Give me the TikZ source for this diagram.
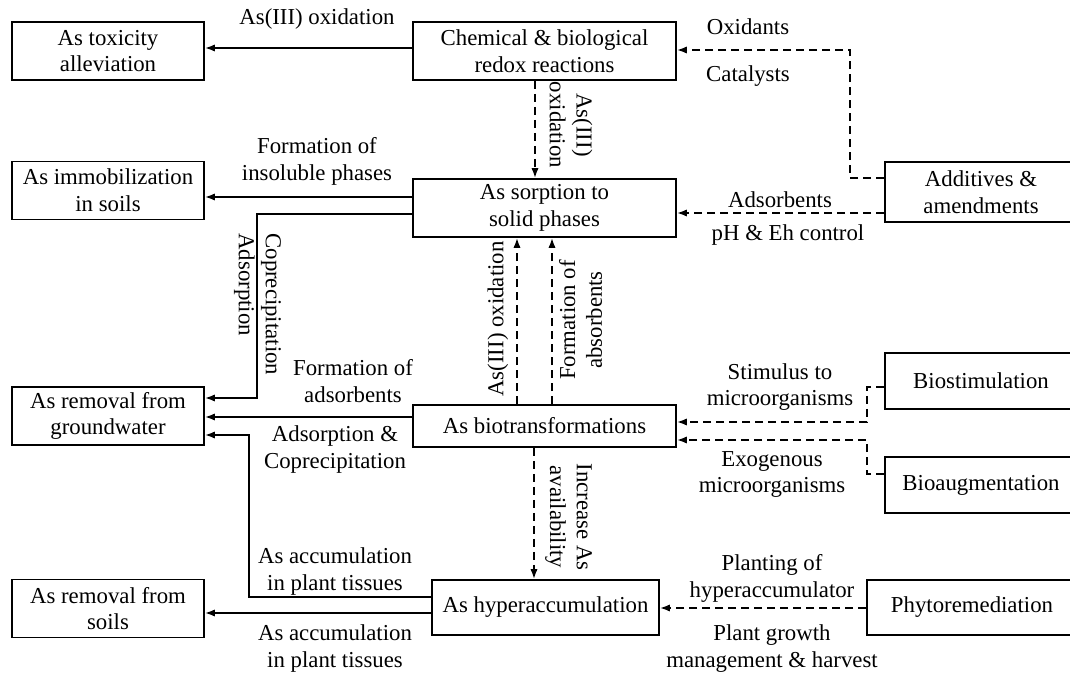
\documentclass[tikz,border=0pt]{standalone}
\usepackage{fontspec}
\setmainfont{Liberation Serif}
\usetikzlibrary{arrows.meta}

\begin{document}
\begin{tikzpicture}[x=0.5pt,y=-0.5pt]
                        \tikzstyle{box}=[draw, line width=0.8pt, align=center, inner sep=0pt, font=\fontsize{11.4}{13.4}\selectfont]
                        \tikzstyle{sidebox}=[box, minimum width=96pt, minimum height=29pt]
                        \tikzstyle{midbox}=[box, minimum width=131.5pt, minimum height=29pt]
                        \tikzstyle{lbl}=[align=center, inner sep=0pt, font=\fontsize{11.4}{13.4}\selectfont]
                        \tikzstyle{solidarr}=[line width=0.9pt, -{Latex[length=5pt,width=3.6pt]}]
                        \tikzstyle{dasharr}=[solidarr, dash pattern=on 4pt off 2.5pt]
                        \useasboundingbox (0,0) rectangle (1070,673);
                        \clip (0,0) rectangle (1070,673);
                        \node[sidebox] (tox) at (108,51) {As toxicity\\alleviation};
                        \node[sidebox] (immob) at (108,190.5) {As immobilization\\in soils};
                        \node[sidebox] (gw) at (108,416) {As removal from\\groundwater};
                        \node[sidebox] (soils) at (108,608.5) {As removal from\\soils};
                        \node[midbox] (chem) at (544.5,51) {Chemical \& biological\\redox reactions};
                        \node[midbox] (sorp) at (544.5,208) {As sorption to\\solid phases};
                        \node[midbox, minimum height=21pt] (biot) at (544.5,426) {As biotransformations};
                        \node[box, minimum width=113.5pt, minimum height=27.5pt] (hyper) at (545.5,607.5) {As hyperaccumulation};
                        \node[sidebox, minimum height=30pt] (addit) at (981,192) {Additives \&\\amendments};
                        \node[sidebox, minimum height=28pt] (biostim) at (981,381) {Biostimulation};
                        \node[sidebox, minimum height=28pt] (bioaug) at (981,485) {Bioaugmentation};
                        \node[box, minimum width=105pt, minimum height=27.5pt] (phyto) at (972,607.5) {Phytoremediation};

                        \draw[solidarr] (chem.west |- 0,48) -- (tox.east |- 0,48);
                        \draw[solidarr] (sorp.west |- 0,197) -- (immob.east |- 0,197);
                        \draw[solidarr] (sorp.west |- 0,214) -| (257,398) -- (gw.east |- 0,398);
                        \draw[solidarr] (biot.west |- 0,417) -- (gw.east |- 0,417);
                        \draw[solidarr] (hyper.west |- 0,597) -| (249,435) -- (gw.east |- 0,435);
                        \draw[solidarr] (hyper.west |- 0,613) -- (soils.east |- 0,613);
                        \draw[dasharr] (chem.south -| 535,0) -- (sorp.north -| 535,0);
                        \draw[dasharr] (biot.north -| 517,0) -- (sorp.south -| 517,0);
                        \draw[dasharr] (biot.north -| 552,0) -- (sorp.south -| 552,0);
                        \draw[dasharr] (biot.south -| 534,0) -- (hyper.north -| 534,0);
                        \draw[dasharr] (addit.west |- 0,178) -| (850,50) -- (chem.east |- 0,50);
                        \draw[dasharr] (addit.west |- 0,213) -- (sorp.east |- 0,213);
                        \draw[dasharr] (biostim.west |- 0,387) -| (867,422) -- (biot.east |- 0,422);
                        \draw[dasharr] (bioaug.west |- 0,474) -| (867,440) -- (biot.east |- 0,440);
                        \draw[dasharr] (phyto.west |- 0,608) -- (hyper.east |- 0,608);

                        \node[lbl] (lToxOx) at (317,19) {As(III) oxidation};
                        \node[lbl] (lInsol) at (317,161.5) {Formation of\\insoluble phases};
                        \node[lbl] (lOxid) at (748,27) {Oxidants};
                        \node[lbl] (lCatal) at (748,76) {Catalysts};
                        \node[lbl] (lAdsorb) at (780,200) {Adsorbents};
                        \node[lbl] (lPhEh) at (788,235) {pH \& Eh control};
                        \node[lbl, rotate=-90] (lChemOx) at (571,125) {As(III)\\oxidation};
                        \node[lbl, rotate=-90, align=left, anchor=west] (lCopre) at (257.5,233) {Coprecipitation\\Adsorption};
                        \node[lbl, rotate=90, anchor=west] (lBioOx) at (498,397) {As(III) oxidation};
                        \node[lbl, rotate=90] (lBioAds) at (580.5,320) {Formation of\\absorbents};
                        \node[lbl, rotate=-90] (lIncr) at (568.5,517) {Increase As\\availability};
                        \node[lbl] (lFormAds) at (353,381) {Formation of\\adsorbents};
                        \node[lbl] (lAdsCop) at (335,449.5) {Adsorption \&\\Coprecipitation};
                        \node[lbl] (lAccumA) at (335,571.5) {As accumulation\\in plant tissues};
                        \node[lbl] (lAccumB) at (335,648.5) {As accumulation\\in plant tissues};
                        \node[lbl] (lStim) at (780,387) {Stimulus to\\microorganisms};
                        \node[lbl] (lExo) at (772,474.5) {Exogenous\\microorganisms};
                        \node[lbl] (lPlant) at (772,578.5) {Planting of\\hyperaccumulator};
                        \node[lbl] (lGrowth) at (772,648.5) {Plant growth\\management \& harvest};
\end{tikzpicture}
\end{document}
